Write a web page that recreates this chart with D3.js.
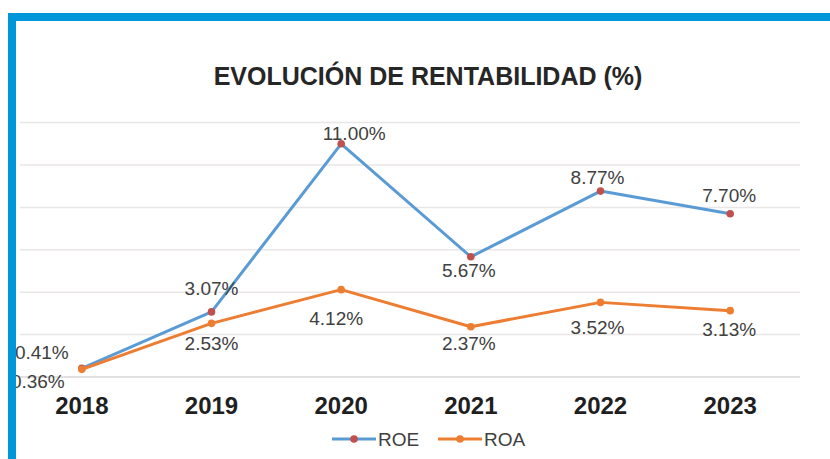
<!DOCTYPE html>
<html>
<head>
<meta charset="utf-8">
<script src="https://cdn.jsdelivr.net/npm/d3@7"></script>
<style>
  html, body { margin: 0; padding: 0; background: #fff; }
  svg { display: block; font-family: "Liberation Sans", Arial, sans-serif; }
</style>
</head>
<body>
<svg id="chart" width="830" height="459"></svg>
<script>
// data
var years = ["2018", "2019", "2020", "2021", "2022", "2023"];
var roe = [0.41, 3.07, 11.00, 5.67, 8.77, 7.70];
var roa = [0.36, 2.53, 4.12, 2.37, 3.52, 3.13];
var yTicks = [0, 2, 4, 6, 8, 10, 12];
var seriesNames = ["ROE", "ROA"];

// label placement relative to the point [dx, dy]
var roeLabelOff = [[-40, -9], [0, -17], [13, -4], [-2, 20], [-3, -7], [-1, -12]];
var roaLabelOff = [[-44, 19], [0, 27], [-5, 35], [-2, 23], [-3, 32], [-1, 25]];

var svg = d3.select("#chart");
var W = 830, H = 459;

svg.append("rect").attr("width", W).attr("height", H).attr("fill", "#fff");

var x = d3.scaleBand().domain(years).range([17, 795]);
var y = d3.scaleLinear().domain([0, 12]).range([377, 122.6]);
var cx = function(d) { return x(d) + x.bandwidth() / 2; };

// gridlines
svg.append("g").selectAll("line")
  .data(yTicks)
  .enter().append("line")
  .attr("x1", 20).attr("x2", 800)
  .attr("y1", function(d) { return y(d); })
  .attr("y2", function(d) { return y(d); })
  .attr("stroke", function(d) { return d == 0 ? "#d6d6d6" : "#ebe6e6"; })
  .attr("stroke-width", 1.5);

// title
svg.append("text")
  .attr("x", 428).attr("y", 85)
  .attr("text-anchor", "middle")
  .attr("font-size", 25).attr("font-weight", "bold")
  .attr("fill", "#262626")
  .text("EVOLUCIÓN DE RENTABILIDAD (%)");

// x axis labels
svg.append("g").selectAll("text")
  .data(years)
  .enter().append("text")
  .attr("x", cx).attr("y", 414)
  .attr("text-anchor", "middle")
  .attr("font-size", 24).attr("font-weight", "bold")
  .attr("fill", "#1f1f1f")
  .text(function(d) { return d; });

var line = d3.line()
  .x(function(d, i) { return cx(years[i]); })
  .y(function(d) { return y(d); });

function drawSeries(vals, color, markColor, offs) {
  svg.append("path")
    .datum(vals)
    .attr("d", line)
    .attr("fill", "none")
    .attr("stroke", color)
    .attr("stroke-width", 3)
    .attr("stroke-linejoin", "round");
  svg.append("g").selectAll("circle")
    .data(vals)
    .enter().append("circle")
    .attr("cx", function(d, i) { return cx(years[i]); })
    .attr("cy", function(d) { return y(d); })
    .attr("r", 3.8)
    .attr("fill", markColor);
  svg.append("g").selectAll("text")
    .data(vals)
    .enter().append("text")
    .attr("x", function(d, i) { return cx(years[i]) + offs[i][0]; })
    .attr("y", function(d, i) { return y(d) + offs[i][1]; })
    .attr("text-anchor", "middle")
    .attr("font-size", 19)
    .attr("fill", "#404040")
    .text(function(d) { return d.toFixed(2) + "%"; });
}

drawSeries(roe, "#5b9bd5", "#c0504d", roeLabelOff);
drawSeries(roa, "#ed7d31", "#ed7d31", roaLabelOff);

// legend
var legColors = [["#5b9bd5", "#c0504d"], ["#ed7d31", "#ed7d31"]];
var legX = [332, 438];
var leg = svg.append("g").selectAll("g")
  .data(seriesNames)
  .enter().append("g")
  .attr("transform", function(d, i) { return "translate(" + legX[i] + ",439)"; });
leg.append("line")
  .attr("x1", 0).attr("x2", 44)
  .attr("stroke", function(d, i) { return legColors[i][0]; })
  .attr("stroke-width", 3);
leg.append("circle")
  .attr("cx", 22).attr("r", 3.8)
  .attr("fill", function(d, i) { return legColors[i][1]; });
leg.append("text")
  .attr("x", 46).attr("y", 7)
  .attr("font-size", 19)
  .attr("fill", "#404040")
  .text(function(d) { return d; });

// frame
svg.append("rect").attr("x", 8).attr("y", 13).attr("width", W - 8).attr("height", 8).attr("fill", "#0096da");
svg.append("rect").attr("x", 8).attr("y", 13).attr("width", 8).attr("height", H - 13).attr("fill", "#0096da");
</script>
</body>
</html>
